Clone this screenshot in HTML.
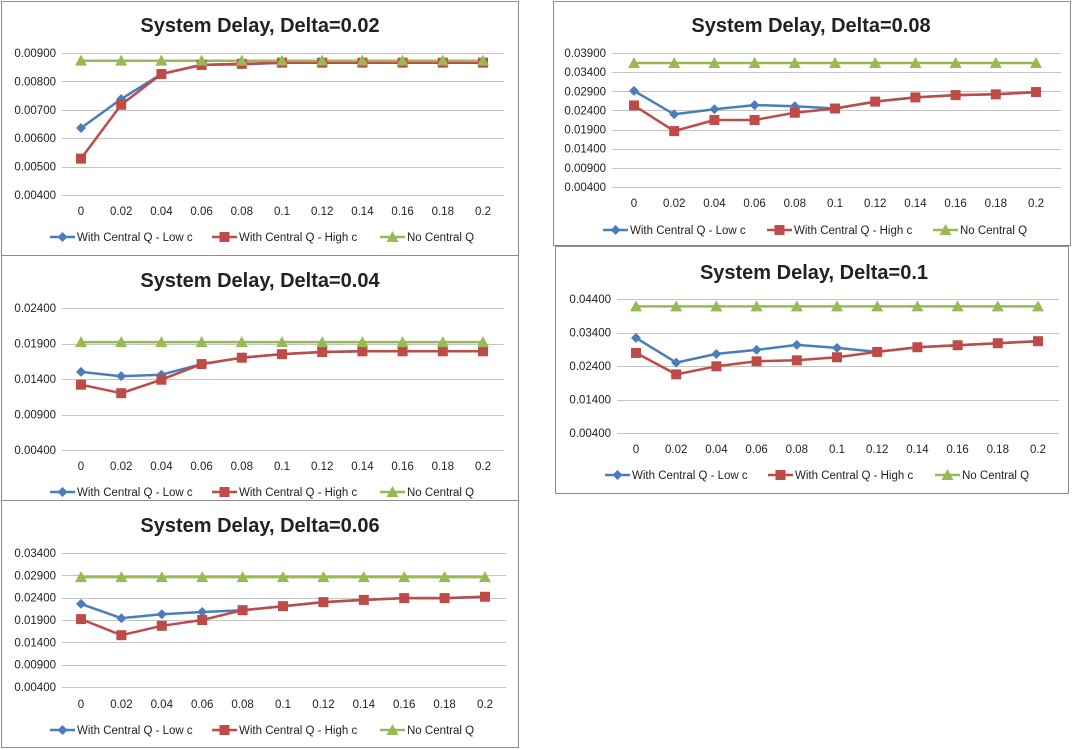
<!DOCTYPE html>
<html><head><meta charset="utf-8">
<style>
html,body{margin:0;padding:0;background:#fff;}
svg{display:block;}
text{font-family:"Liberation Sans",Arial,sans-serif;fill:#222;}
</style></head>
<body>
<svg id="s" width="1073" height="750" xmlns="http://www.w3.org/2000/svg"></svg>
<script>
var C=[
 {box:[1,1,517,254],title:"System Delay, Delta=0.02",tx:260,ty:25,gx0:62,gx1:504,gt:53,gb:195,vt:0.009,vb:0.004,n:6,c0:81,c10:483,xl:215,lg:237,lx:[50,212,380],
  low:[.00636,.00738,.00826,.00858,.0086,.00866,.00866,.00866,.00866,.00866,.00866],
  high:[.00528,.00718,.00826,.00858,.00862,.00866,.00866,.00866,.00866,.00866,.00866],no:.00873},
 {box:[1,255,517,245],title:"System Delay, Delta=0.04",tx:260,ty:280,gx0:62,gx1:504,gt:308,gb:450,vt:0.024,vb:0.004,n:5,c0:81,c10:483,xl:470,lg:492,lx:[50,212,380],
  low:[.0150,.0144,.0146,.0161,.0170,.0175,.0178,.0179,.0179,.0179,.0179],
  high:[.0132,.0120,.0139,.0161,.0170,.0175,.0178,.0179,.0179,.0179,.0179],no:.0192},
 {box:[1,500,517,247],title:"System Delay, Delta=0.06",tx:260,ty:525,gx0:62,gx1:506,gt:553,gb:687,vt:0.034,vb:0.004,n:7,c0:81,c10:485,xl:708,lg:730,lx:[50,212,380],
  low:[.0226,.0194,.0203,.0208,.0212,.0221,.0230,.0235,.0239,.0239,.0242],
  high:[.0192,.0156,.0177,.0190,.0212,.0221,.0230,.0235,.0239,.0239,.0242],no:.0286},
 {box:[553,1,517,244],title:"System Delay, Delta=0.08",tx:811,ty:25,gx0:612,gx1:1061,gt:53,gb:187,vt:0.039,vb:0.004,n:8,c0:634,c10:1036,xl:207,lg:230,lx:[603,767,933],
  low:[.0291,.0230,.0243,.0254,.0251,.0245,.0263,.0274,.0280,.0282,.0288],
  high:[.0253,.0186,.0215,.0215,.0234,.0245,.0263,.0274,.0280,.0282,.0288],no:.0364},
 {box:[555,246,513,247],title:"System Delay, Delta=0.1",tx:814,ty:272,gx0:617,gx1:1059,gt:299,gb:433,vt:0.044,vb:0.004,n:5,c0:636,c10:1038,xl:453,lg:475,lx:[605,768,935],
  low:[.0324,.0250,.0276,.0288,.0303,.0294,.0282,.0296,.0302,.0308,.0314],
  high:[.0279,.0215,.0239,.0254,.0257,.0266,.0282,.0296,.0302,.0308,.0314],no:.0418}
];
var B="#4a7ebb",R="#be4b48",G="#98b954";
var cats=["0","0.02","0.04","0.06","0.08","0.1","0.12","0.14","0.16","0.18","0.2"];
var h="";
function mk(t,x,y){
 if(t==0)return '<polygon points="'+x+','+(y-5)+' '+(x+5)+','+y+' '+x+','+(y+5)+' '+(x-5)+','+y+'" fill="'+B+'"/>';
 if(t==1)return '<rect x="'+(x-5)+'" y="'+(y-5)+'" width="10" height="10" fill="'+R+'"/>';
 return '<polygon points="'+x+','+(y-6)+' '+(x+6)+','+(y+5)+' '+(x-6)+','+(y+5)+'" fill="'+G+'"/>';
}
C.forEach(function(c){
 var b=c.box;
 h+='<rect x="'+(b[0]+.5)+'" y="'+(b[1]+.5)+'" width="'+b[2]+'" height="'+b[3]+'" fill="#fff" stroke="#8c8c8c"/>';
 h+='<text x="'+c.tx+'" y="'+(c.ty+7)+'" text-anchor="middle" font-weight="bold" font-size="20">'+c.title+'</text>';
 for(var i=0;i<c.n;i++){
  var y=c.gt+(c.gb-c.gt)*i/(c.n-1), v=c.vt-(c.vt-c.vb)*i/(c.n-1);
  h+='<line x1="'+c.gx0+'" x2="'+c.gx1+'" y1="'+(Math.round(y)+.5)+'" y2="'+(Math.round(y)+.5)+'" stroke="#c4c4c4"/>';
  h+='<text x="'+(c.gx0-6)+'" y="'+(y+4)+'" text-anchor="end" font-size="11.5">'+v.toFixed(5)+'</text>';
 }
 var dx=(c.c10-c.c0)/10;
 function Y(v){return c.gb-(v-c.vb)/(c.vt-c.vb)*(c.gb-c.gt);}
 cats.forEach(function(t,i){h+='<text x="'+(c.c0+i*dx)+'" y="'+(c.xl)+'" text-anchor="middle" font-size="11.5">'+t+'</text>';});
 var sets=[[c.low,B,0],[c.high,R,1],[[c.no,c.no,c.no,c.no,c.no,c.no,c.no,c.no,c.no,c.no,c.no],G,2]];
 sets.forEach(function(s){
  var p=s[0].map(function(v,i){return (c.c0+i*dx).toFixed(1)+','+Y(v).toFixed(1);}).join(' ');
  h+='<polyline points="'+p+'" fill="none" stroke="'+s[1]+'" stroke-width="2.5" stroke-linejoin="round"/>';
 });
 sets.forEach(function(s){s[0].forEach(function(v,i){h+=mk(s[2],c.c0+i*dx,Y(v));});});
 var labs=["With Central Q - Low c","With Central Q - High c","No Central Q"],cols=[B,R,G];
 for(var k=0;k<3;k++){
  var x=c.lx[k];
  h+='<line x1="'+x+'" x2="'+(x+25)+'" y1="'+c.lg+'" y2="'+c.lg+'" stroke="'+cols[k]+'" stroke-width="2.5"/>';
  h+=mk(k,x+12.5,c.lg);
  h+='<text x="'+(x+27)+'" y="'+(c.lg+4)+'" font-size="11.5">'+labs[k]+'</text>';
 }
});
document.getElementById("s").innerHTML=h;
</script>
</body></html>
